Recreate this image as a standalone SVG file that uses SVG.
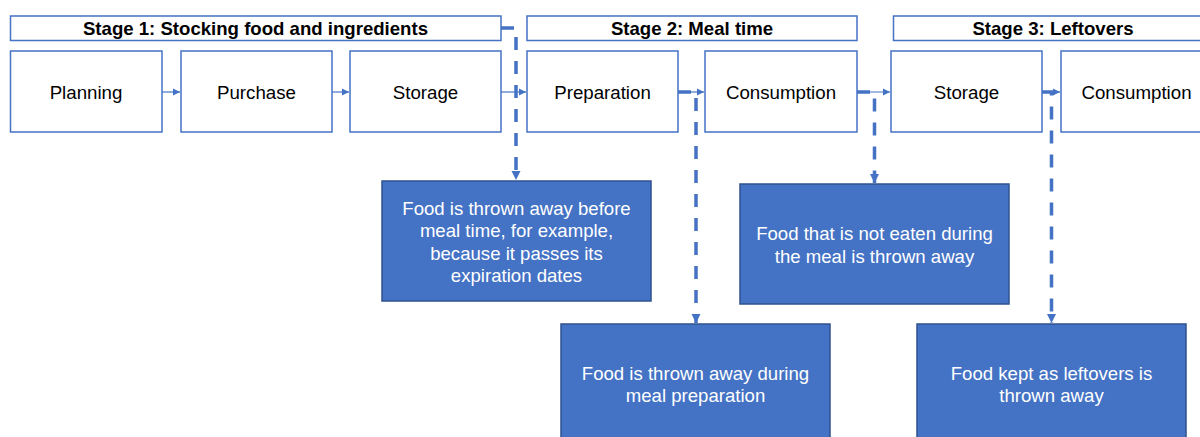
<svg xmlns="http://www.w3.org/2000/svg" width="1200" height="437" viewBox="0 0 1200 437">
<defs>
<style>
.hdr{fill:#fff;stroke:#4472C4;stroke-width:1.5}
.htxt{font-family:"Liberation Sans",Arial,sans-serif;font-size:18.6px;font-weight:bold;fill:#000;text-anchor:middle}
.proc{fill:#fff;stroke:#4472C4;stroke-width:1.5}
.ptxt{font-family:"Liberation Sans",Arial,sans-serif;font-size:18.7px;fill:#000;text-anchor:middle}
.blue{fill:#4472C4;stroke:#2F528F;stroke-width:1.5}
.btxt{font-family:"Liberation Sans",Arial,sans-serif;font-size:18.6px;fill:#fff;text-anchor:middle}
.thin{fill:none;stroke:#4472C4;stroke-width:1.2;marker-end:url(#ah)}
.dash{fill:none;stroke:#4472C4;stroke-width:3.5;stroke-dasharray:13 11;marker-end:url(#ahd)}
</style>
<marker id="ah" viewBox="0 0 10 10" refX="10" refY="5" markerWidth="7" markerHeight="8" markerUnits="userSpaceOnUse" orient="auto"><path d="M0,0 L10,5 L0,10 z" fill="#4472C4"/></marker>
<marker id="ahd" viewBox="0 0 10 10" refX="10" refY="5" markerWidth="9" markerHeight="10" markerUnits="userSpaceOnUse" orient="auto"><path d="M0,0 L10,5 L0,10 z" fill="#4472C4"/></marker>
</defs>
<rect width="1200" height="437" fill="#fff"/>

<g id="stage1"><rect class="hdr" x="10.5" y="16" width="490.5" height="24.5"/><text class="htxt" x="255.5" y="34.5">Stage 1: Stocking food and ingredients</text></g>
<g id="stage2"><rect class="hdr" x="527" y="16" width="330" height="24.5"/><text class="htxt" x="692" y="34.5">Stage 2: Meal time</text></g>
<g id="stage3"><rect class="hdr" x="893.5" y="16" width="320" height="24.5"/><text class="htxt" x="1053" y="34.5">Stage 3: Leftovers</text></g>

<g id="connectors">
<path class="thin" d="M162,92 H180"/>
<path class="thin" d="M332,92 H349"/>
<path class="thin" d="M501,92 H526"/>
<path class="thin" d="M678,92 H704"/>
<path class="thin" d="M857,92 H890"/>
<path class="thin" d="M1042,92 H1060"/>
<path class="dash" d="M501,28 H516 V180"/>
<path class="dash" d="M678,92 H696 V323"/>
<path class="dash" d="M857,92 H874.5 V183"/>
<path class="dash" d="M1042,92 H1051.5 V323"/>
</g>

<g id="planning"><rect class="proc" x="10.5" y="51" width="151.5" height="81"/><text class="ptxt" x="86" y="98.5">Planning</text></g>
<g id="purchase"><rect class="proc" x="181" y="51" width="151" height="81"/><text class="ptxt" x="256.5" y="98.5">Purchase</text></g>
<g id="storage1"><rect class="proc" x="350" y="51" width="151" height="81"/><text class="ptxt" x="425.5" y="98.5">Storage</text></g>
<g id="preparation"><rect class="proc" x="527" y="51" width="151" height="81"/><text class="ptxt" x="602.5" y="98.5">Preparation</text></g>
<g id="consumption1"><rect class="proc" x="705" y="51" width="152" height="81"/><text class="ptxt" x="781" y="98.5">Consumption</text></g>
<g id="storage2"><rect class="proc" x="891" y="51" width="151" height="81"/><text class="ptxt" x="966.5" y="98.5">Storage</text></g>
<g id="consumption2"><rect class="proc" x="1061" y="51" width="151" height="81"/><text class="ptxt" x="1136.5" y="98.5">Consumption</text></g>

<g id="loss1"><rect class="blue" x="382" y="181" width="269" height="120"/>
<text class="btxt" x="516.5" y="214.5">Food is thrown away before</text>
<text class="btxt" x="516.5" y="237">meal time, for example,</text>
<text class="btxt" x="516.5" y="259.5">because it passes its</text>
<text class="btxt" x="516.5" y="282">expiration dates</text></g>
<g id="loss2"><rect class="blue" x="561" y="324" width="269" height="125"/>
<text class="btxt" x="695.5" y="379.5">Food is thrown away during</text>
<text class="btxt" x="695.5" y="402">meal preparation</text></g>
<g id="loss3"><rect class="blue" x="740" y="184" width="269" height="120"/>
<text class="btxt" x="874.5" y="240">Food that is not eaten during</text>
<text class="btxt" x="874.5" y="262.5">the meal is thrown away</text></g>
<g id="loss4"><rect class="blue" x="917" y="324" width="269" height="125"/>
<text class="btxt" x="1051.5" y="379.5">Food kept as leftovers is</text>
<text class="btxt" x="1051.5" y="402">thrown away</text></g>
</svg>
